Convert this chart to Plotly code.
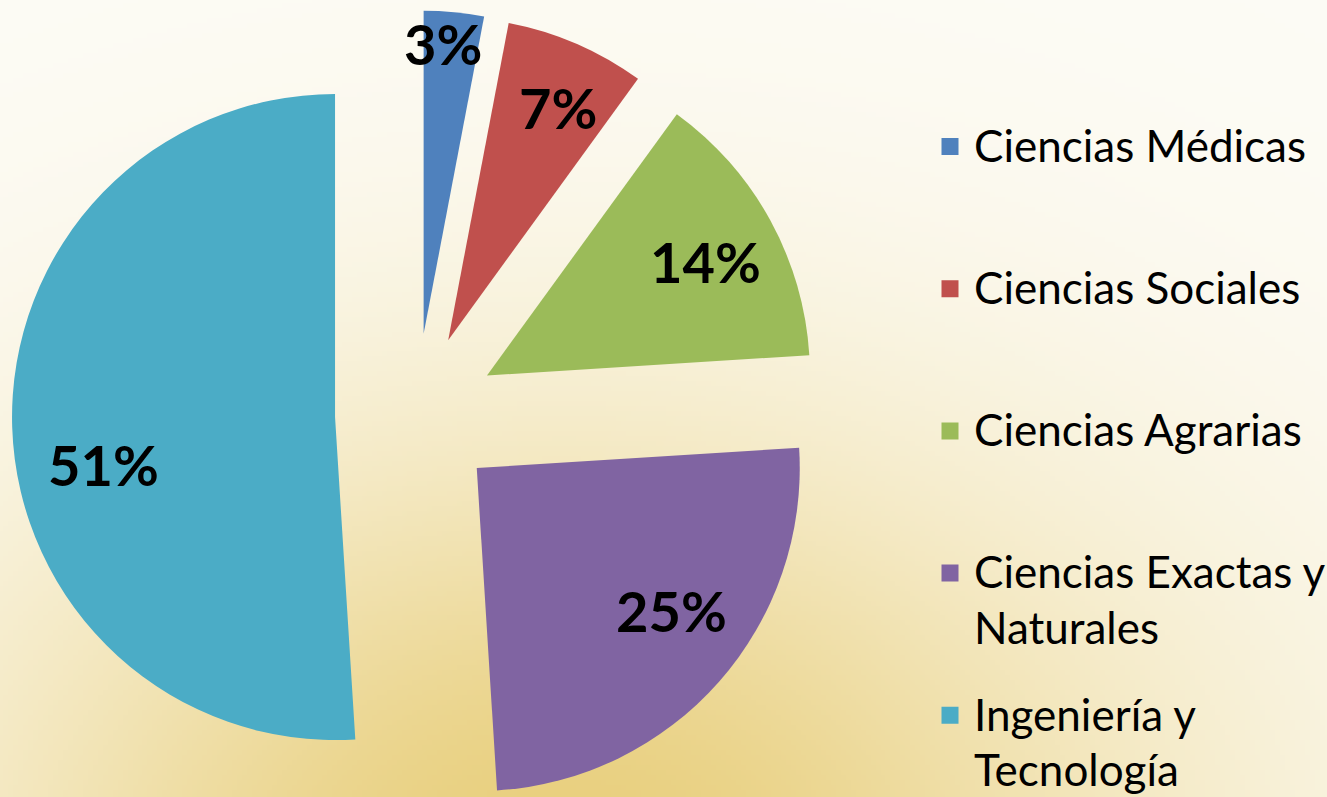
import base64
import math
import struct
import zlib

import numpy as np
import plotly.graph_objects as go

# ---------------- data ----------------
categories = ["Ciencias Médicas", "Ciencias Sociales", "Ciencias Agrarias",
              "Ciencias Exactas y Naturales", "Ingeniería y Tecnología"]
legend_lines = [["Ciencias Médicas"], ["Ciencias Sociales"], ["Ciencias Agrarias"],
                ["Ciencias Exactas y", "Naturales"], ["Ingeniería y", "Tecnología"]]
values = [3, 7, 14, 25, 51]
colors = ["#4F81BD", "#C0504D", "#9BBB59", "#8064A2", "#4BACC6"]

# ---------------- layout constants ----------------
W, H = 1327, 797
C0 = (416.0, 414.5)      # pie centre before explosion (px)
R = 323.0                # pie radius (px)
EXPLODE = 81.0           # explosion distance (px)
label_r = [0.885, 0.78, 0.75, 0.75, 0.74]    # label radius fraction
label_da = [-2, 2, 2, -4, -11]               # label angle shift (deg)
TRANSPARENT = "rgba(0,0,0,0)"
LEG_BASE = 21.42         # legend base font -> line pitch 27.85 px
LEG_FONT = 44            # visible legend font size
LEG_LINES = 5            # lines per legend entry (item pitch ~142 px)


def png_data_uri(arr):
    h, w, _ = arr.shape
    raw = b"".join(b"\x00" + arr[y].tobytes() for y in range(h))

    def chunk(tag, data):
        c = struct.pack(">I", len(data)) + tag + data
        return c + struct.pack(">I", zlib.crc32(tag + data) & 0xFFFFFFFF)

    png = (b"\x89PNG\r\n\x1a\n" + chunk(b"IHDR", struct.pack(">IIBBBBB", w, h, 8, 2, 0, 0, 0))
           + chunk(b"IDAT", zlib.compress(raw, 9)) + chunk(b"IEND", b""))
    return "data:image/png;base64," + base64.b64encode(png).decode()


# background: cream with a warm yellow glow at the bottom centre
bw_, bh_ = 266, 160
ys, xs = np.mgrid[0:bh_, 0:bw_]
px = xs * W / bw_
py = ys * H / bh_
t = np.exp(-((px - 560) / 620) ** 2 - ((py - 900) / 470) ** 2)
t = np.clip(t, 0, 1)
c_light = np.array([253, 252, 246], float)
c_warm = np.array([232, 206, 122], float)
img = (c_light[None, None, :] * (1 - t[..., None]) + c_warm[None, None, :] * t[..., None])
bg_uri = png_data_uri(img.clip(0, 255).astype(np.uint8))

total = float(sum(values))
fig = go.Figure()

# legend entries: text lines at every second line slot so that entries are evenly spaced
span = '<span style="font-size:%dpx;baseline-shift:-7px">%s</span>'
legend_text = []
for lines in legend_lines:
    slots = [" "] * LEG_LINES
    for k, ln in enumerate(lines):
        slots[2 * k] = span % (LEG_FONT, ln)
    legend_text.append("<br>".join(slots))

# legend-only trace (tiny, hidden beneath the large slice)
fig.add_trace(go.Pie(
    labels=legend_text, values=values, sort=False, direction="clockwise", rotation=0,
    marker=dict(colors=colors, line=dict(color=colors, width=10)),
    textinfo="none", hoverinfo="skip", showlegend=True,
    domain=dict(x=[200 / W, 202 / W], y=[1 - 422 / H, 1 - 420 / H]),
))

annotations = []
start = 0.0
for i, v in enumerate(values):
    sweep = v / total * 360.0
    mid = start + sweep / 2.0
    a = math.radians(mid)
    cx = C0[0] + EXPLODE * math.sin(a)
    cy = C0[1] - EXPLODE * math.cos(a)
    slice_colors = [colors[j] if j == i else TRANSPARENT for j in range(len(values))]
    fig.add_trace(go.Pie(
        labels=legend_text, values=values, sort=False, direction="clockwise", rotation=0,
        marker=dict(colors=slice_colors, line=dict(width=0)),
        textinfo="none", hoverinfo="skip", showlegend=False,
        domain=dict(x=[(cx - R) / W, (cx + R) / W],
                    y=[(H - cy - R) / H, (H - cy + R) / H]),
    ))
    la = math.radians(mid + label_da[i])
    lx = cx + label_r[i] * R * math.sin(la)
    ly = cy - label_r[i] * R * math.cos(la)
    annotations.append(dict(
        x=lx / W, y=1 - ly / H, xref="paper", yref="paper",
        text="%d%%" % round(100 * v / total), showarrow=False,
        xanchor="center", yanchor="middle", xshift=2, yshift=5,
        font=dict(family="Lato", size=56, color="black", weight=700),
    ))
    start += sweep

fig.update_layout(
    width=W, height=H,
    margin=dict(l=0, r=0, t=0, b=0, autoexpand=False),
    paper_bgcolor="#FBF8EC",
    plot_bgcolor="rgba(0,0,0,0)",
    images=[dict(source=bg_uri, xref="paper", yref="paper", x=0, y=1, sizex=1, sizey=1,
                 sizing="stretch", layer="below")],
    annotations=annotations,
    legend=dict(
        x=(946 - 20) / W, xanchor="left", y=1 - 126 / H, yanchor="top",
        font=dict(family="Lato", size=LEG_BASE, color="black"),
        bgcolor="rgba(0,0,0,0)", valign="top", itemwidth=38,
        traceorder="normal",
    ),
)

fig.write_html("out.html", config={"displayModeBar": False},
               post_script="document.body.style.margin='0';"
               "document.body.style.overflow='hidden';")
